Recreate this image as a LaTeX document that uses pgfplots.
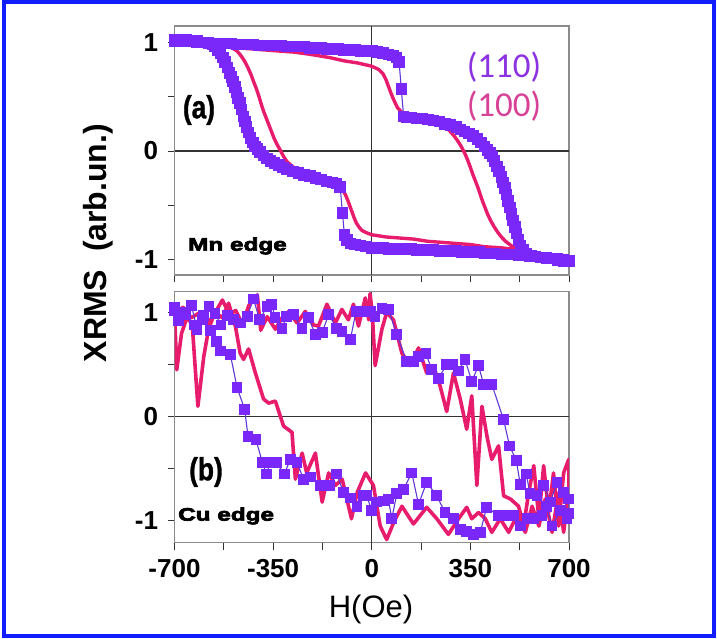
\documentclass[border=0pt]{standalone}
\usepackage{pgfplots}
\pgfplotsset{compat=1.18}
\usepackage{fontspec}
\setmainfont{Liberation Sans}
\newfontfamily\condfont[FakeStretch=0.82,FakeBold=1]{Liberation Sans}
\newfontfamily\heavyfont[FakeBold=4,FakeStretch=1.35]{Liberation Sans}
\newfontfamily\calfont{Carlito}

\definecolor{violetm}{RGB}{122,40,250}
\definecolor{violetl}{RGB}{95,55,215}
\definecolor{pinkl}{RGB}{232,28,108}
\definecolor{lab110}{RGB}{140,50,225}
\definecolor{lab100}{RGB}{215,65,150}
\definecolor{frameblue}{RGB}{15,30,250}

\newcommand{\tickfont}{\fontsize{26}{29}\selectfont\bfseries}

\tikzset{zeroline/.style={black!80, line width=1.3pt}}
\pgfplotsset{
  panel/.style={
    scale only axis, width=394.5pt,
    xmin=-700, xmax=700,
    xtick={-700,-525,-350,-175,0,175,350,525,700},
    ytick={-1,-0.5,0,0.5,1}, yticklabels={-1,,0,,1},
    axis line style={draw=gray!90, line width=1.3pt},
    tick style={draw=black!80, line width=1pt},
    tick align=outside, major tick length=7pt,
    xtick pos=left, ytick pos=left,
    yticklabel style={font=\tickfont, xshift=-6pt},
    xticklabel style={font=\tickfont, yshift=-6pt},
  },
  sq/.style={violetl, line width=1.1pt, mark=square*, mark size=4.8pt,
    mark options={solid, fill=violetm, draw=violetm}},
  pk/.style={pinkl, line width=3.4pt, line join=round, mark=none},
}

\begin{document}
\begin{tikzpicture}
\useasboundingbox (0pt,0pt) rectangle (717pt,-638pt);
\draw[frameblue, line width=3.5pt] (4pt,-2pt) rectangle (714pt,-636pt);

% ---------- (a) Mn edge ----------
\begin{axis}[panel, at={(174.5pt,-26pt)}, anchor=north west,
  height=249pt, ymin=-1.14, ymax=1.15, xticklabels={}]
\draw[zeroline] (axis cs:0,-1.14) -- (axis cs:0,1.15);
\draw[zeroline] (axis cs:-700,0) -- (axis cs:700,0);
% (100) loop
\addplot[pk] coordinates {
(-700,1.02) (-640,1.01) (-580,0.99) (-537,0.97) (-480,0.95) (-430,0.94)
(-380,0.93) (-330,0.92) (-276,0.91) (-220,0.89) (-150,0.86) (-99,0.83)
(-50,0.81) (0,0.78) (25,0.75) (40,0.71) (50,0.66) (60,0.59) (70,0.52)
(80,0.46) (91,0.40) (105,0.36) (125,0.33) (150,0.31) (180,0.29) (210,0.28)
(233,0.26) (255,0.23) (275,0.19) (292,0.14) (306,0.09) (318,0.04) (330,-0.02)
(340,-0.08) (350,-0.15) (358,-0.21) (367,-0.27) (376,-0.33) (385,-0.40)
(393,-0.46) (402,-0.52) (411,-0.58) (422,-0.64) (435,-0.70) (448,-0.75)
(460,-0.79) (475,-0.83) (490,-0.86) (505,-0.89) (518,-0.91) (540,-0.93)
(560,-0.95) (600,-0.97) (650,-0.99) (700,-1.01)
(650,-0.98) (600,-0.96) (560,-0.94) (518,-0.91) (460,-0.89) (400,-0.88)
(350,-0.86) (300,-0.85) (250,-0.84) (198,-0.83) (150,-0.81) (100,-0.80)
(50,-0.79) (0,-0.77) (-20,-0.75) (-35,-0.73) (-45,-0.70) (-55,-0.66)
(-63,-0.61) (-70,-0.56) (-77,-0.51) (-84,-0.46) (-92,-0.41) (-100,-0.37)
(-112,-0.33) (-130,-0.30) (-157,-0.28) (-185,-0.26) (-215,-0.23) (-240,-0.21)
(-262,-0.18) (-282,-0.14) (-300,-0.10) (-313,-0.05) (-325,0.01) (-336,0.06)
(-347,0.12) (-356,0.18) (-365,0.24) (-374,0.30) (-383,0.36) (-392,0.43)
(-400,0.50) (-409,0.57) (-418,0.63) (-428,0.70) (-440,0.77) (-452,0.83)
(-465,0.88) (-478,0.92) (-490,0.94) (-513,0.97) (-550,0.99) (-600,1.00)
(-650,1.01) (-700,1.02)
};
% (110) loop
\addplot[sq, mark size=5.2pt] coordinates {
(-700,1.01) (-680,1.02) (-660,1.01) (-640,1.01) (-620,1.00) (-600,1.00)
(-580,1.00) (-560,0.99) (-540,0.99) (-520,0.99) (-500,0.99) (-480,0.98)
(-460,0.98) (-440,0.98) (-420,0.98) (-400,0.97) (-380,0.97) (-360,0.97)
(-340,0.97) (-320,0.97) (-300,0.96) (-280,0.96) (-260,0.96) (-240,0.96)
(-220,0.95) (-200,0.95) (-180,0.95) (-160,0.94) (-140,0.94) (-120,0.94)
(-100,0.93) (-80,0.93) (-60,0.93) (-40,0.92) (-20,0.92) (0,0.92) (20,0.91)
(40,0.90) (60,0.89) (75,0.88) (88,0.86) (97,0.82) (105,0.57) (113,0.32)
(125,0.31) (140,0.31) (160,0.30) (180,0.30) (200,0.29) (220,0.28) (240,0.27)
(260,0.25) (280,0.24) (300,0.22) (315,0.20) (330,0.18) (345,0.16) (360,0.14)
(375,0.11) (388,0.08) (400,0.04) (410,0.01) (420,-0.02) (428,-0.05)
(436,-0.09) (444,-0.14) (452,-0.19) (460,-0.24) (466,-0.29) (472,-0.34)
(478,-0.40) (484,-0.46) (490,-0.52) (496,-0.58) (502,-0.64) (508,-0.70)
(514,-0.76) (520,-0.82) (528,-0.87) (538,-0.91) (550,-0.94) (565,-0.96)
(580,-0.97) (600,-0.98) (620,-0.99) (640,-0.99) (660,-1.00) (680,-1.01)
(700,-1.01)
(680,-1.00) (660,-0.99) (640,-0.99) (620,-0.98) (600,-0.98) (580,-0.97)
(560,-0.97) (540,-0.96) (520,-0.96) (500,-0.95) (480,-0.95) (460,-0.95)
(440,-0.94) (420,-0.94) (400,-0.94) (380,-0.93) (360,-0.93) (340,-0.93)
(320,-0.93) (300,-0.92) (280,-0.92) (260,-0.92) (240,-0.92) (220,-0.91)
(200,-0.91) (180,-0.91) (160,-0.91) (140,-0.90) (120,-0.90) (100,-0.90)
(80,-0.90) (60,-0.90) (40,-0.89) (20,-0.89) (0,-0.89) (-20,-0.88)
(-40,-0.87) (-60,-0.86) (-75,-0.85) (-88,-0.82) (-97,-0.77) (-104,-0.57)
(-112,-0.33) (-125,-0.30) (-140,-0.29) (-160,-0.28) (-180,-0.26) (-200,-0.25)
(-220,-0.23) (-240,-0.22) (-260,-0.20) (-280,-0.19) (-300,-0.17) (-315,-0.15)
(-330,-0.13) (-345,-0.11) (-360,-0.09) (-372,-0.07) (-384,-0.04) (-396,-0.01)
(-406,0.02) (-414,0.04) (-422,0.08) (-430,0.12) (-437,0.17) (-444,0.22)
(-450,0.27) (-456,0.32) (-462,0.38) (-468,0.44) (-474,0.49) (-480,0.54)
(-486,0.59) (-492,0.64) (-498,0.68) (-505,0.72) (-512,0.77) (-520,0.82)
(-528,0.86) (-537,0.90) (-546,0.93) (-556,0.96) (-566,0.98) (-580,0.99)
(-600,1.00) (-620,1.01) (-640,1.01) (-660,1.02) (-680,1.02) (-700,1.02)
};
\end{axis}

% ---------- (b) Cu edge ----------
\begin{axis}[panel, at={(174.5pt,-291.7pt)}, anchor=north west,
  height=251pt, ymin=-1.21, ymax=1.2,
  xticklabels={-700,,-350,,0,,350,,700}]
\draw[zeroline] (axis cs:0,-1.21) -- (axis cs:0,1.2);
\draw[zeroline] (axis cs:-700,0) -- (axis cs:700,0);
% (100) loop
\addplot[pk, line width=3.6pt] coordinates {
(-700,1.01) (-692,0.45) (-675,0.80) (-655,0.96) (-637,0.88) (-617,0.10)
(-596,0.58) (-579,0.84) (-560,0.98) (-530,1.12) (-505,0.98) (-483,1.02)
(-459,0.89) (-436,1.07) (-406,1.17) (-394,0.83) (-371,0.96) (-342,0.84)
(-318,0.95) (-295,1.01) (-265,0.90) (-236,1.01) (-206,0.88) (-189,0.87)
(-159,1.08) (-129,0.90) (-106,1.03) (-83,0.93) (-65,1.08) (-47,0.87)
(-23,1.14) (-11,0.93) (-6,1.18) (2,0.99) (12,0.49) (36,0.84) (53,1.00)
(77,0.93) (107,0.61) (136,0.49) (166,0.66) (195,0.42) (219,0.49) (243,0.29)
(266,0.05) (290,0.42) (314,0.17) (337,-0.12) (355,0.20) (373,-0.66)
(391,0.10) (409,-0.19) (426,-0.41) (450,-0.28) (468,-0.76) (492,-0.79)
(521,-0.86) (539,-1.05) (557,-0.73) (575,-0.47) (593,-0.98) (610,-0.47)
(628,-0.92) (645,-0.54) (663,-1.05) (681,-0.54) (699,-0.41)
(700,-0.67) (681,-1.11) (663,-0.73) (640,-1.11) (616,-0.79) (593,-1.05)
(569,-0.86) (545,-1.11) (515,-0.95) (486,-1.11) (456,-0.98) (426,-1.11)
(403,-0.98) (379,-0.92) (355,-0.98) (337,-0.87) (308,-0.98) (272,-1.13)
(231,-0.98) (195,-0.87) (148,-1.03) (107,-0.86) (77,-1.02) (53,-1.18)
(30,-1.05) (6,-0.66) (-22,-0.54) (-52,-0.73) (-72,-0.98) (-105,-0.60)
(-129,-0.66) (-153,-0.54) (-176,-0.82) (-200,-0.35) (-231,-0.54) (-247,-0.35)
(-271,-0.60) (-283,-0.15) (-313,-0.09) (-342,0.15) (-366,0.13) (-384,0.17)
(-413,0.42) (-437,0.65) (-455,0.55) (-467,0.61) (-484,0.87) (-508,1.09)
(-530,0.95) (-555,1.00) (-580,0.90) (-610,1.00) (-640,0.95) (-670,1.05)
(-700,0.98)
};
% (110) loop
\addplot[sq] coordinates {
(-700,1.05) (-685,0.92) (-662,1.00) (-640,1.07) (-620,0.84) (-598,0.97)
(-578,1.06) (-556,0.99) (-535,0.88) (-512,0.97) (-490,0.93) (-465,0.90)
(-442,0.96) (-420,1.13) (-398,0.93) (-372,1.06) (-355,1.08) (-343,0.95)
(-319,0.85) (-302,0.96) (-278,0.98) (-248,0.85) (-225,0.95) (-200,0.79)
(-176,0.81) (-153,0.98) (-124,0.85) (-106,0.82) (-76,0.74) (-56,1.01)
(-29,1.01) (-5,1.01) (12,0.96) (36,1.04) (59,1.03) (89,0.79) (124,0.53)
(148,0.53) (166,0.58) (192,0.61) (213,0.45) (237,0.37) (266,0.50) (288,0.50)
(308,0.44) (331,0.55) (355,0.34) (379,0.49) (397,0.31) (426,0.31)
(468,-0.03) (489,-0.28) (513,-0.42) (527,-0.65) (548,-0.55) (562,-0.74)
(586,-0.76) (610,-0.66) (634,-0.82) (657,-0.63) (681,-0.73) (699,-0.79)
(700,-0.93) (693,-0.98) (669,-0.90) (640,-1.05) (620,-0.86) (604,-0.95)
(575,-0.98) (551,-0.98) (527,-1.05) (503,-0.95) (480,-0.95) (450,-0.95)
(408,-0.87) (385,-1.11) (361,-1.13) (337,-1.10) (314,-1.08) (290,-0.98)
(260,-0.92) (231,-0.76) (195,-0.63) (166,-0.84) (142,-0.54) (112,-0.70)
(89,-0.74) (71,-0.98) (59,-0.79) (41,-0.81) (18,-0.82) (0,-0.90)
(-18,-0.76) (-29,-0.76) (-52,-0.86) (-76,-0.78) (-100,-0.73) (-124,-0.55)
(-148,-0.66) (-183,-0.66) (-218,-0.58) (-242,-0.60) (-265,-0.44) (-289,-0.41)
(-310,-0.55) (-339,-0.44) (-361,-0.44) (-373,-0.55) (-388,-0.44) (-411,-0.22)
(-439,-0.19) (-451,0.07) (-478,0.28) (-502,0.60) (-537,0.63) (-550,0.72)
(-572,0.83) (-600,0.93) (-630,0.88) (-660,0.98) (-685,0.94) (-700,1.02)
};
\end{axis}

% ---------- annotations ----------
\node[font=\calfont\fontsize{35}{40}\selectfont, text=lab110] at (504pt,-67pt) {(110)};
\node[font=\calfont\fontsize{35}{40}\selectfont, text=lab100] at (504pt,-106pt) {(100)};
\node[font=\condfont\bfseries\fontsize{32}{36}\selectfont] at (199pt,-110pt) {(a)};
\node[font=\condfont\bfseries\fontsize{32}{36}\selectfont] at (206pt,-472pt) {(b)};
\node[font=\heavyfont\bfseries\fontsize{18}{20}\selectfont, anchor=west, inner sep=0pt] at (188pt,-246pt) {Mn edge};
\node[font=\heavyfont\bfseries\fontsize{18}{20}\selectfont, anchor=west, inner sep=0pt] at (178pt,-516pt) {Cu edge};
\node[font=\fontsize{31}{34}\selectfont] at (371pt,-609pt) {H(Oe)};
\node[rotate=90, font=\bfseries\fontsize{32}{36}\selectfont] at (98pt,-243pt) {XRMS\ \ (arb.un.)};
\end{tikzpicture}
\end{document}
